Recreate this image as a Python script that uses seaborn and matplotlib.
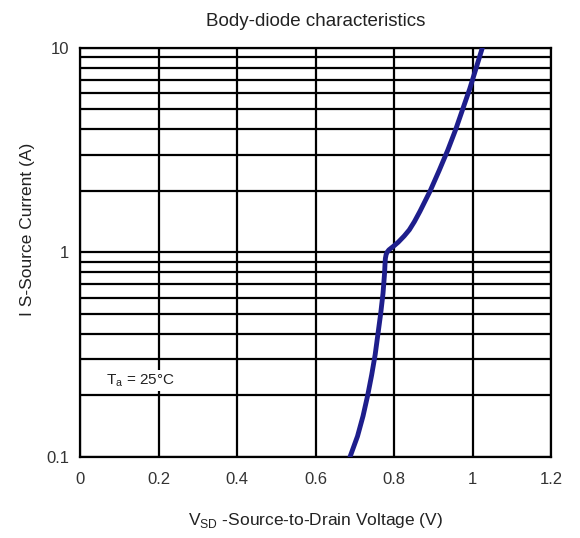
import numpy as np
import pandas as pd
import matplotlib.pyplot as plt
import seaborn as sns
from matplotlib.ticker import LogLocator, FixedLocator, NullFormatter

# body-diode curve
vsd = [0.688, 0.707, 0.721, 0.733, 0.743, 0.752, 0.759, 0.766, 0.772, 0.776,
       0.777, 0.778, 0.780, 0.783, 0.787, 0.793, 0.801, 0.811, 0.826, 0.839,
       0.852, 0.866, 0.892, 0.915, 0.937, 0.957, 0.975, 0.993, 1.009, 1.025]
i_s = [0.100, 0.126, 0.158, 0.200, 0.251, 0.316, 0.398, 0.501, 0.631, 0.794,
       0.871, 0.933, 0.977, 1.005, 1.028, 1.050, 1.080, 1.122, 1.202, 1.288,
       1.413, 1.585, 1.995, 2.512, 3.162, 3.981, 5.012, 6.310, 7.943, 10.0]

x_ticks = [0, 0.2, 0.4, 0.6, 0.8, 1.0, 1.2]
x_labels = ['0', '0.2', '0.4', '0.6', '0.8', '1', '1.2']
y_ticks = [0.1, 1, 10]
y_labels = ['0.1', '1', '10']

df = pd.DataFrame({'VSD': vsd, 'IS': i_s})

sns.set_style('white')
plt.rcParams['font.family'] = ['Liberation Sans', 'DejaVu Sans']
plt.rcParams['mathtext.fontset'] = 'custom'
plt.rcParams['mathtext.rm'] = 'Liberation Sans'

fig = plt.figure(figsize=(5.8, 5.38), dpi=100)
ax = fig.add_axes([0.138, 0.151, 0.812, 0.760])

ax.set_yscale('log')
ax.set_xlim(0, 1.2)
ax.set_ylim(0.1, 10)

ax.xaxis.set_major_locator(FixedLocator(x_ticks))
ax.set_xticklabels(x_labels)
ax.yaxis.set_major_locator(FixedLocator(y_ticks))
ax.set_yticklabels(y_labels)
ax.yaxis.set_minor_locator(LogLocator(base=10, subs=np.arange(2, 10)))
ax.yaxis.set_minor_formatter(NullFormatter())

ax.grid(True, which='major', axis='x', color='black', lw=1.6)
ax.grid(True, which='both', axis='y', color='black', lw=1.6)
ax.tick_params(which='both', length=0, labelsize=12, colors='#333333')
ax.tick_params(axis='x', pad=11)
ax.tick_params(axis='y', pad=8)
for s in ax.spines.values():
    s.set_color('black')
    s.set_linewidth(1.6)

sns.lineplot(data=df, x='VSD', y='IS', sort=False, estimator=None,
             color='#1e1e8c', lw=3.5, ax=ax, zorder=5)

ax.text(0.065, 0.235, 'T$_{\\mathregular{a}}$ = 25°C', fontsize=11, color='#222222',
        va='center', ha='left',
        bbox=dict(facecolor='white', edgecolor='none', pad=1.5), zorder=4)

ax.set_title('Body-diode characteristics', fontsize=13.5, color='#222222', pad=16)
ax.set_xlabel('V$_{\\mathregular{SD}}$ -Source-to-Drain Voltage (V)', fontsize=12.5,
              color='#222222', labelpad=17)
ax.set_ylabel('I S-Source Current (A)', fontsize=12.5, color='#222222', labelpad=8, y=0.555)

fig.savefig('out.png', dpi=100)
